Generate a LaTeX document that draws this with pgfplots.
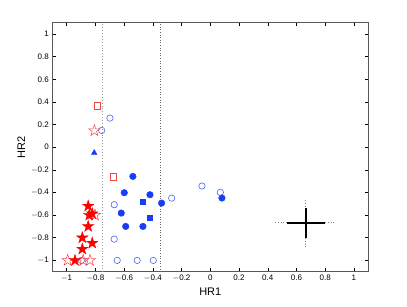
\documentclass[border=0pt]{standalone}
\usepackage{fontspec}
\setmainfont{Liberation Sans}
\usepackage{pgfplots}
\pgfplotsset{compat=1.18}
\pgfdeclareplotmark{fstar}{%
  \pgfpathmoveto{\pgfpointpolar{90}{\pgfplotmarksize}}%
  \pgfpathlineto{\pgfpointpolar{126}{0.382\pgfplotmarksize}}%
  \pgfpathlineto{\pgfpointpolar{162}{\pgfplotmarksize}}%
  \pgfpathlineto{\pgfpointpolar{198}{0.382\pgfplotmarksize}}%
  \pgfpathlineto{\pgfpointpolar{234}{\pgfplotmarksize}}%
  \pgfpathlineto{\pgfpointpolar{270}{0.382\pgfplotmarksize}}%
  \pgfpathlineto{\pgfpointpolar{306}{\pgfplotmarksize}}%
  \pgfpathlineto{\pgfpointpolar{342}{0.382\pgfplotmarksize}}%
  \pgfpathlineto{\pgfpointpolar{18}{\pgfplotmarksize}}%
  \pgfpathlineto{\pgfpointpolar{54}{0.382\pgfplotmarksize}}%
  \pgfpathclose
  \pgfusepathqfillstroke}
\pgfdeclareplotmark{ostar}{%
  \pgfpathmoveto{\pgfpointpolar{90}{\pgfplotmarksize}}%
  \pgfpathlineto{\pgfpointpolar{126}{0.382\pgfplotmarksize}}%
  \pgfpathlineto{\pgfpointpolar{162}{\pgfplotmarksize}}%
  \pgfpathlineto{\pgfpointpolar{198}{0.382\pgfplotmarksize}}%
  \pgfpathlineto{\pgfpointpolar{234}{\pgfplotmarksize}}%
  \pgfpathlineto{\pgfpointpolar{270}{0.382\pgfplotmarksize}}%
  \pgfpathlineto{\pgfpointpolar{306}{\pgfplotmarksize}}%
  \pgfpathlineto{\pgfpointpolar{342}{0.382\pgfplotmarksize}}%
  \pgfpathlineto{\pgfpointpolar{18}{\pgfplotmarksize}}%
  \pgfpathlineto{\pgfpointpolar{54}{0.382\pgfplotmarksize}}%
  \pgfpathclose
  \pgfusepathqstroke}
\definecolor{mblue}{RGB}{25,60,245}
\definecolor{lblue}{RGB}{70,100,245}
\definecolor{mred}{RGB}{255,0,0}
\definecolor{lred}{RGB}{240,70,70}
\begin{document}
\begin{tikzpicture}
\useasboundingbox (0,0) rectangle (407pt,306pt);
\begin{axis}[
  at={(52.3pt,34.3pt)}, anchor=south west,
  width=316pt, height=249pt, scale only axis,
  xmin=-1.1, xmax=1.1, ymin=-1.1, ymax=1.1,
  xtick={-1,-0.8,...,1.01}, ytick={-1,-0.8,...,1.01},
  xticklabels={$-$1,$-$0.8,$-$0.6,$-$0.4,$-$0.2,0,0.2,0.4,0.6,0.8,1},
  yticklabels={$-$1,$-$0.8,$-$0.6,$-$0.4,$-$0.2,0,0.2,0.4,0.6,0.8,1},
  tick align=inside, major tick length=3.5pt,
  tick style={black, line width=0.5pt},
  axis line style={draw=black!65, line width=0.8pt},
  ticklabel style={font=\fontsize{8}{9}\selectfont},
  label style={font=\fontsize{11}{12}\selectfont},
  xlabel={HR1}, ylabel={HR2},
  xlabel style={yshift=1pt},
  ylabel style={yshift=-1pt},
  clip=false,
]
% dotted vertical lines
\addplot[black!40, dotted, line width=0.9pt] coordinates {(-0.749,-1.1)(-0.749,1.1)};
\addplot[black!60, dotted, line width=0.6pt] coordinates {(-0.348,-1.1)(-0.348,1.1)};
% error cross
\addplot[black!50, dotted, line width=0.8pt] coordinates {(0.45,-0.667)(0.535,-0.667)};
\addplot[black!50, dotted, line width=0.8pt] coordinates {(0.798,-0.667)(0.86,-0.667)};
\addplot[black!50, dotted, line width=0.8pt] coordinates {(0.664,-0.47)(0.664,-0.534)};
\addplot[black!50, dotted, line width=0.8pt] coordinates {(0.664,-0.803)(0.664,-0.88)};
\addplot[black, line width=2pt] coordinates {(0.535,-0.667)(0.798,-0.667)};
\addplot[black, line width=2pt] coordinates {(0.664,-0.534)(0.664,-0.803)};
% open blue circles
\addplot[only marks, mark=o, mark size=3.2pt, lblue, mark options={line width=0.6pt}] coordinates {
(-0.699,0.257)(-0.756,0.148)(-0.669,-0.508)(-0.669,-0.812)(-0.648,-1)(-0.509,-1)(-0.397,-1)
(-0.269,-0.45)(-0.058,-0.343)(0.07,-0.399)(-0.898,-1)};
% filled blue circles
\addplot[only marks, mark=*, mark size=3.3pt, mblue] coordinates {
(-0.539,-0.258)(-0.599,-0.402)(-0.42,-0.42)(-0.339,-0.494)(-0.62,-0.582)(-0.589,-0.70)(-0.469,-0.70)(0.081,-0.449)};
% filled blue squares
\addplot[only marks, mark=square*, mark size=2.3pt, mblue] coordinates {(-0.469,-0.482)(-0.42,-0.623)};
% filled blue triangle
\addplot[only marks, mark=triangle*, mark size=3.2pt, mblue] coordinates {(-0.808,-0.049)};
% open red squares
\addplot[only marks, mark=square, mark size=3.2pt, lred, mark options={line width=0.6pt}] coordinates {(-0.787,0.367)(-0.677,-0.26)};
% open red stars
\addplot[only marks, mark=ostar, mark size=6pt, lred, mark options={line width=0.5pt}] coordinates {
(-0.807,0.146)(-0.993,-1)(-0.885,-1)(-0.838,-1)(-0.803,-0.60)};
% filled red stars
\addplot[only marks, mark=fstar, mark size=6pt, mred] coordinates {
(-0.85,-0.52)(-0.843,-0.60)(-0.822,-0.588)(-0.85,-0.70)(-0.891,-0.80)(-0.891,-0.90)(-0.822,-0.847)(-0.942,-1)};
\end{axis}
\end{tikzpicture}
\end{document}
